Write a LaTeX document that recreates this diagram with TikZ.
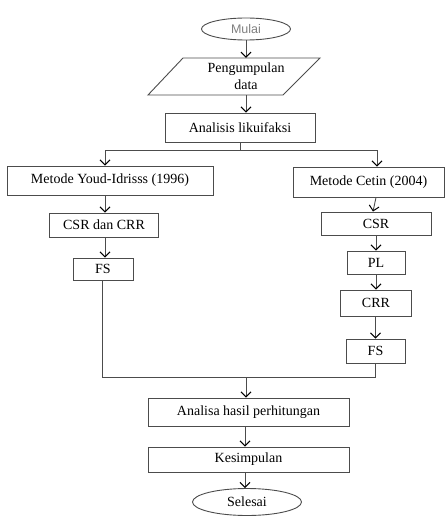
\documentclass[tikz,border=0pt]{standalone}
\usepackage{fontspec}
\setmainfont{Liberation Serif}
\newfontfamily\sansf{Liberation Sans}
\usetikzlibrary{arrows.meta,shapes.geometric}
\definecolor{lg}{gray}{0.3}
\definecolor{tg}{gray}{0.5}
\begin{document}
\begin{tikzpicture}[x=1pt,y=-1pt,
  box/.style={draw=lg, line width=0.9pt, rectangle, inner sep=0pt, font=\fontsize{14}{17}\selectfont},
  oval/.style={draw=lg, line width=0.9pt, ellipse, inner sep=0pt},
  line/.style={draw=lg, line width=0.9pt},
  arr/.style={line, -{Straight Barb[length=5pt,width=10pt,line width=1pt,color=black]}}]
\useasboundingbox (0,0) rectangle (446,516);
% terminals
\node[oval, minimum width=89, minimum height=22, text=tg, font=\sansf\fontsize{12.5}{14}\selectfont] (mulai) at (246,29) {Mulai};
\node[oval, minimum width=109, minimum height=27, font=\fontsize{14}{17}\selectfont] (selesai) at (247,502) {Selesai};
% parallelogram
\node[inner sep=0pt, minimum width=100, minimum height=37, align=center, font=\fontsize{14}{17}\selectfont] (pd) at (246,76.5) {Pengumpulan\\data};
\draw[line] (183,58) -- (320,58) -- (283,95) -- (148,95) -- cycle;
% boxes
\node[box, minimum width=150, minimum height=29] (ana) at (240,127.5) {Analisis likuifaksi};
\node[box, minimum width=206, minimum height=29] (youd) at (110,180.5) {Metode Youd-Idrisss (1996)};
\node[box, minimum width=109, minimum height=24] (csrcrr) at (104,225) {CSR dan CRR};
\node[box, minimum width=60, minimum height=22] (fsa) at (103,269) {FS};
\node[box, minimum width=151, minimum height=30] (cetin) at (368.5,182) {Metode Cetin (2004)};
\node[box, minimum width=110, minimum height=23] (csr) at (376,223.5) {CSR};
\node[box, minimum width=58, minimum height=23] (pl) at (376,262.5) {PL};
\node[box, minimum width=71, minimum height=26] (crr) at (376,303) {CRR};
\node[box, minimum width=59, minimum height=24] (fsb) at (375.5,351) {FS};
\node[box, minimum width=201, minimum height=28] (hasil) at (248.5,412) {Analisa hasil perhitungan};
\node[box, minimum width=201, minimum height=25] (kes) at (248.5,459.5) {Kesimpulan};
% helper coordinates
\coordinate (bl) at (105,150);
\coordinate (br) at (377,150);
\coordinate (jl) at (102,377);
\coordinate (jr) at (375,377);
% connectors
\draw[arr] (mulai.south) -- (mulai.south |- pd.north);
\draw[arr] (pd.south) -- (pd.south |- ana.north);
\draw[line] (ana.south) -- (ana.south |- bl);
\draw[line] (bl) -- (br);
\draw[arr] (bl) -- (bl |- youd.north);
\draw[arr] (br) -- (br |- cetin.north);
\draw[arr] (bl |- youd.south) -- (bl |- csrcrr.north);
\draw[arr] (bl |- csrcrr.south) -- (bl |- fsa.north);
\draw[arr] (csr.north |- cetin.south) -- (csr.north -| 373,0);
\draw[arr] (pl.north |- csr.south) -- (pl.north);
\draw[arr] (crr.north |- pl.south) -- (crr.north);
\draw[arr] (fsb.north |- crr.south) -- (fsb.north);
\draw[line] (fsa.south -| jl) -- (jl) -- (jr) -- (fsb.south -| jr);
\draw[arr] (246,377) -- (hasil.north -| 246,0);
\draw[arr] (hasil.south -| 245,0) -- (kes.north -| 245,0);
\draw[arr] (kes.south -| 245,0) -- (selesai.north -| 245,0);
\end{tikzpicture}
\end{document}
